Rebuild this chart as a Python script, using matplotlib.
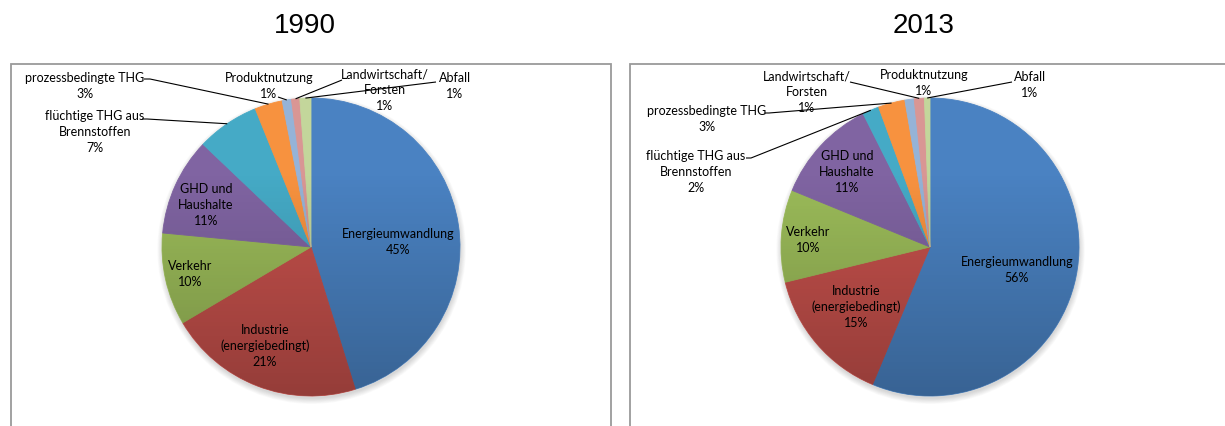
import numpy as np
import matplotlib
matplotlib.use("Agg")
import matplotlib.pyplot as plt
from matplotlib.patches import Rectangle, Circle

# Greenhouse-gas emissions by source category, share of total in percent
categories = [
    "Energieumwandlung",
    "Industrie\n(energiebedingt)",
    "Verkehr",
    "GHD und\nHaushalte",
    "flüchtige THG aus\nBrennstoffen",
    "prozessbedingte THG",
    "Produktnutzung",
    "Landwirtschaft/\nForsten",
    "Abfall",
]
share_1990 = [45.2, 21.3, 10.0, 10.6, 6.8, 3.0, 1.0, 0.9, 1.2]
share_2013 = [56.3, 14.9, 10.0, 11.4, 1.8, 2.9, 1.0, 1.1, 0.6]
years = ["1990", "2013"]

colors = ["#4A82C2", "#C4504B", "#9BBB59", "#8064A2", "#45AAC6",
          "#F7923F", "#95B3D7", "#D99694", "#C3D69B"]

W, H = 1225, 426
PX = 150.0          # pixels per data unit inside each pie axes
R = 149.0 / PX      # pie radius

fig = plt.figure(figsize=(W / 100, H / 100), dpi=100)
fig.patch.set_facecolor("white")


def fx(px):
    return px / W


def fy(py):
    return (H - py) / H


# panel layout: pie centre (px), frame left/right (px), title x (px)
panels = [
    dict(cx=311, cy=247, frame=(11, 611), title_x=305),
    dict(cx=930, cy=247, frame=(630, 1232), title_x=924),
]

# label block centres (px) and leader-line start points (px) per panel
label_xy = [
    [(398, 242), (265, 346), (190, 274), (206, 205), (95, 132),
     (85, 86), (269, 86), (385, 90), (455, 86)],
    [(1017, 270), (856, 307), (808, 240), (847, 172), (696, 172),
     (707, 119), (924, 83), (807, 92), (1030, 85)],
]
leaders = [
    {4: [(142, 119), (147, 119)], 5: [(144, 79), (150, 79)],
     6: [(278, 97)], 7: [(342, 80)], 8: [(436, 82)]},
    {4: [(746, 158), (751, 158)], 5: [(765, 113), (769, 113)],
     7: [(850, 82)], 8: [(1012, 82)]},
]

for k, (year, values) in enumerate(zip(years, [share_1990, share_2013])):
    p = panels[k]
    cx, cy = p["cx"], p["cy"]

    # chart frame
    x0, x1 = p["frame"]
    fig.add_artist(Rectangle((fx(x0), fy(440)), (x1 - x0) / W, (440 - 64) / H,
                             transform=fig.transFigure, fill=False,
                             edgecolor="#9a9a9a", linewidth=1.3))
    fig.text(fx(p["title_x"]), fy(33), year, ha="center", va="baseline",
             fontsize=20, family="Liberation Sans", color="black")

    ax = fig.add_axes([fx(cx - 300), fy(cy + 300), 600 / W, 600 / H])
    ax.axis("off")
    ax.patch.set_alpha(0)

    # soft drop shadow
    for i in range(8):
        ax.add_patch(Circle((0.004, -0.018), R + i * 0.005, color="black",
                            alpha=0.018, lw=0, zorder=1))

    wedges, _ = ax.pie(values, colors=colors, startangle=90,
                       counterclock=False, radius=R,
                       wedgeprops=dict(linewidth=0.6, zorder=2))
    for w, c in zip(wedges, colors):
        w.set_edgecolor(c)
        w.set_zorder(2)

    # vertical shading over the pie: darker towards the bottom
    t = np.linspace(0, 1, 256)
    grad = np.zeros((256, 1, 4))
    lower = t > 0.25
    grad[lower, 0, 3] = 0.24 * (t[lower] - 0.25) / 0.75
    im = ax.imshow(grad, extent=(-R, R, -R, R), aspect="auto",
                   interpolation="bilinear", zorder=3)
    im.set_clip_path(Circle((0, 0), R, transform=ax.transData))

    ax.set_xlim(-2, 2)
    ax.set_ylim(-2, 2)

    total = float(sum(values))
    cum = np.concatenate([[0], np.cumsum(values)])
    for i, (cat, v) in enumerate(zip(categories, values)):
        lx, ly = label_xy[k][i]
        ax.text((lx - cx) / PX, (cy - ly) / PX, f"{cat}\n{v:.0f}%",
                ha="center", va="center", fontsize=9.0, family="Lato",
                color="black", linespacing=1.36, zorder=6)
        if i in leaders[k]:
            mid = (cum[i] + v / 2) / total * 2 * np.pi
            ang = np.pi / 2 - mid
            rim = (R * np.cos(ang), R * np.sin(ang))
            pts = [((px - cx) / PX, (cy - py) / PX) for px, py in leaders[k][i]]
            pts.append(rim)
            xs, ys = zip(*pts)
            ax.plot(xs, ys, color="black", lw=0.8, zorder=5,
                    solid_capstyle="butt", clip_on=False)

fig.savefig("out.png", dpi=100, facecolor="white")
